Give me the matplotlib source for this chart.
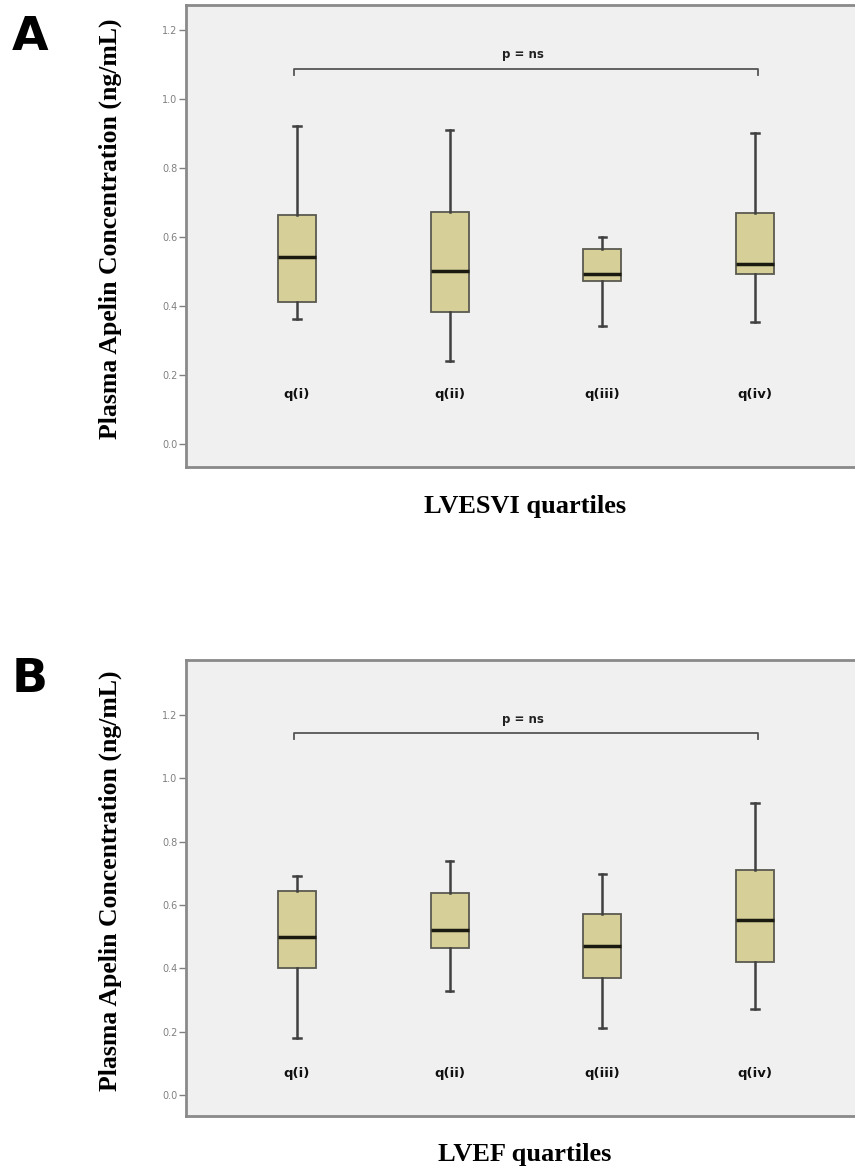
import matplotlib
matplotlib.use("Agg")
from matplotlib import pyplot as plt

# datos (cuartiles de cada grupo)
grupos = ["q(i)", "q(ii)", "q(iii)", "q(iv)"]

# Panel A - LVESVI
a_whislo = [0.362, 0.241, 0.342, 0.352]
a_q1 = [0.411, 0.381, 0.473, 0.492]
a_med = [0.541, 0.502, 0.492, 0.522]
a_q3 = [0.662, 0.672, 0.565, 0.670]
a_whishi = [0.922, 0.910, 0.601, 0.900]

# Panel B - LVEF
b_whislo = [0.179, 0.329, 0.211, 0.271]
b_q1 = [0.400, 0.464, 0.371, 0.421]
b_med = [0.500, 0.521, 0.472, 0.553]
b_q3 = [0.645, 0.637, 0.571, 0.710]
b_whishi = [0.692, 0.740, 0.698, 0.921]

yticks = [0.0, 0.2, 0.4, 0.6, 0.8, 1.0, 1.2]

caja_color = "#d6cf98"
fondo = "#f0f0f0"

fig = plt.figure(figsize=(8.55, 11.68), dpi=100)
W, H = 855.0, 1168.0


def panel(px_top, px_bottom, ylim, whislo, q1, med, q3, whishi,
          label_y, bracket_y, tick_y, p_y, xlabel, letra, letra_y, xlabel_y):
    left = 186 / W
    right_px = 862
    ax = fig.add_axes([left, 1 - px_bottom / H, (right_px - 186) / W,
                       (px_bottom - px_top) / H])
    ax.set_facecolor(fondo)
    stats = []
    for i in range(len(grupos)):
        stats.append({"med": med[i], "q1": q1[i], "q3": q3[i],
                      "whislo": whislo[i], "whishi": whishi[i], "fliers": []})
    pos = list(range(1, len(grupos) + 1))
    ax.bxp(stats, positions=pos, widths=0.25, patch_artist=True,
           showfliers=False, manage_ticks=False, capwidths=0.05,
           boxprops=dict(facecolor=caja_color, edgecolor="#5a5a50", linewidth=1.3),
           whiskerprops=dict(color="#404040", linewidth=1.8),
           capprops=dict(color="#404040", linewidth=1.8),
           medianprops=dict(color="#1a1a10", linewidth=2.5))
    xl = 1 - (297 - 186) / 152.7
    xr = 4 + (right_px - 755) / 152.7
    ax.set_xlim(xl, xr)
    ax.set_ylim(*ylim)
    ax.set_xticks([])
    ax.set_yticks(yticks)
    ax.set_yticklabels(["%.1f" % t for t in yticks])
    ax.tick_params(axis="y", length=5, width=1, color="#808080",
                   labelcolor="#808080", labelsize=7, pad=1)
    for s in ax.spines.values():
        s.set_color("#8a8a8a")
        s.set_linewidth(2)

    for p, g in zip(pos, grupos):
        ax.text(p, label_y, g, ha="center", va="center", fontsize=9.5,
                fontweight="bold", color="#111111")

    # corchete de comparacion q(i) vs q(iv)
    ax.plot([0.98, 0.98, 4.02, 4.02], [tick_y, bracket_y, bracket_y, tick_y],
            color="#555555", linewidth=1.3)
    ax.text(2.48, p_y, "p = ns", ha="center", va="center", fontsize=8.5,
            fontweight="bold", color="#222222")

    ytop_c = 1 - (px_top + px_bottom) / 2 / H
    fig.text(110 / W, ytop_c + 0.006, "Plasma Apelin Concentration (ng/mL)",
             rotation=90, ha="center", va="center", fontsize=18.5,
             fontweight="bold", family="Liberation Serif")
    fig.text(525 / W, 1 - xlabel_y / H, xlabel, ha="center", va="center",
             fontsize=19, fontweight="bold", family="Liberation Serif")
    fig.text(30 / W, 1 - letra_y / H, letra, ha="center", va="center",
             fontsize=34, fontweight="heavy", family="DejaVu Sans")
    return ax


panel(5, 467, (-0.067, 1.272), a_whislo, a_q1, a_med, a_q3, a_whishi,
      0.142, 1.086, 1.070, 1.128, "LVESVI quartiles", "A", 38, 507)
panel(660, 1116, (-0.066, 1.374), b_whislo, b_q1, b_med, b_q3, b_whishi,
      0.069, 1.142, 1.123, 1.187, "LVEF quartiles", "B", 680, 1155)

plt.savefig("out.png", dpi=100, facecolor="white")
